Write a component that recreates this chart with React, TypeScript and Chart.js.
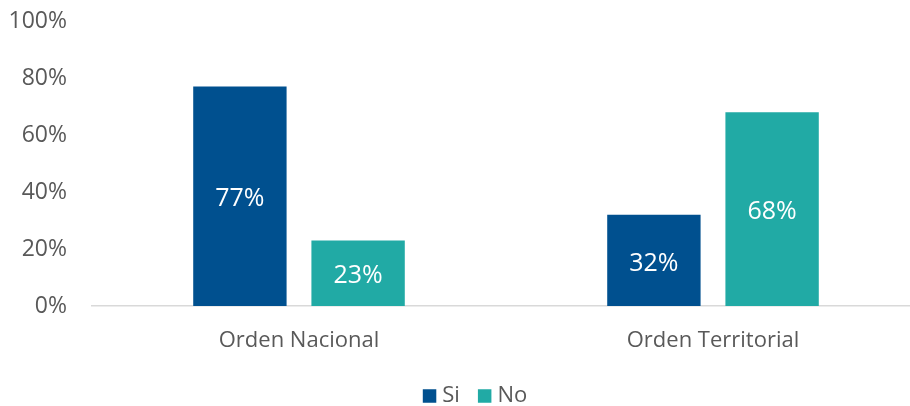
import React, { useEffect, useRef } from "react";
import { Chart, registerables } from "chart.js";

Chart.register(...registerables);

const categories = ["Orden Nacional", "Orden Territorial"];
const seriesNames = ["Si", "No"];
const siValues = [77, 32];
const noValues = [23, 68];
const yTicks = [0, 20, 40, 60, 80, 100];

const FONT = "'Open Sans', 'Noto Sans', sans-serif";
const GRAY = "#595959";

const valueLabels = {
  id: "valueLabels",
  afterDatasetsDraw(chart: any) {
    const ctx = chart.ctx;
    ctx.save();
    ctx.fillStyle = "#ffffff";
    ctx.font = `25px ${FONT}`;
    ctx.textAlign = "center";
    ctx.textBaseline = "middle";
    chart.data.datasets.forEach((ds: any, i: number) => {
      const meta = chart.getDatasetMeta(i);
      meta.data.forEach((el: any, j: number) => {
        const v = ds.data[j];
        ctx.fillText(`${v}%`, el.x, (el.y + el.base) / 2 + 3);
      });
    });
    ctx.restore();
  },
};

// Legend drawn on the canvas, centred below the chart
const bottomLegend = {
  id: "bottomLegend",
  afterDraw(chart: any) {
    const ctx = chart.ctx;
    const box = 13.5;
    const gapBoxText = 6;
    const gapItems = 18;
    const centerX = 475;
    const centerY = 396;
    ctx.save();
    ctx.font = `22px ${FONT}`;
    ctx.textBaseline = "middle";
    ctx.textAlign = "left";
    const items = chart.data.datasets.map((ds: any) => ({
      text: ds.label,
      color: ds.backgroundColor,
      w: ctx.measureText(ds.label).width,
    }));
    let total = 0;
    items.forEach((it: any, i: number) => {
      total += box + gapBoxText + it.w + (i < items.length - 1 ? gapItems : 0);
    });
    let x = centerX - total / 2;
    items.forEach((it: any) => {
      ctx.fillStyle = it.color;
      ctx.fillRect(x, centerY - box / 2, box, box);
      x += box + gapBoxText;
      ctx.fillStyle = GRAY;
      ctx.fillText(it.text, x, centerY);
      x += it.w + gapItems;
    });
    ctx.restore();
  },
};

export default function App() {
  const ref = useRef<HTMLCanvasElement | null>(null);
  useEffect(() => {
    if (!ref.current) return;
    const chart = new Chart(ref.current, {
      type: "bar",
      data: {
        labels: categories,
        datasets: [
          {
            label: seriesNames[0],
            data: siValues,
            backgroundColor: "#00508F",
            barPercentage: 0.79,
            categoryPercentage: 0.571,
          },
          {
            label: seriesNames[1],
            data: noValues,
            backgroundColor: "#21AAA5",
            barPercentage: 0.79,
            categoryPercentage: 0.571,
          },
        ],
      },
      options: {
        responsive: false,
        animation: false,
        layout: { padding: { top: 21, right: 0, left: 0, bottom: 28 } },
        plugins: {
          legend: { display: false },
          tooltip: { enabled: false },
        },
        scales: {
          x: {
            grid: { display: false },
            border: { display: true, color: "#d9d9d9", width: 1.5 },
            ticks: {
              color: GRAY,
              font: { family: FONT, size: 22 },
              padding: 14,
            },
            afterFit(scale: any) {
              scale.height = 72;
              scale.paddingLeft = 0;
              scale.paddingRight = 0;
            },
          },
          y: {
            min: 0,
            max: 100,
            afterBuildTicks(scale: any) {
              scale.ticks = yTicks.map((v) => ({ value: v }));
            },
            grid: { display: false },
            border: { display: false },
            ticks: {
              color: GRAY,
              font: { family: FONT, size: 23 },
              padding: 17,
              callback: (v: any) => `${v}%`,
            },
            afterFit(scale: any) {
              scale.width = 92;
              scale.paddingTop = 0;
              scale.paddingBottom = 0;
            },
          },
        },
      },
      plugins: [valueLabels, bottomLegend],
    });
    return () => chart.destroy();
  }, []);
  return (
    <div
      style={{
        position: "fixed",
        left: 0,
        top: 0,
        width: 910,
        height: 406,
        overflow: "hidden",
        background: "#fff",
      }}
    >
      <canvas ref={ref} width={920} height={406} style={{ display: "block" }} />
    </div>
  );
}
